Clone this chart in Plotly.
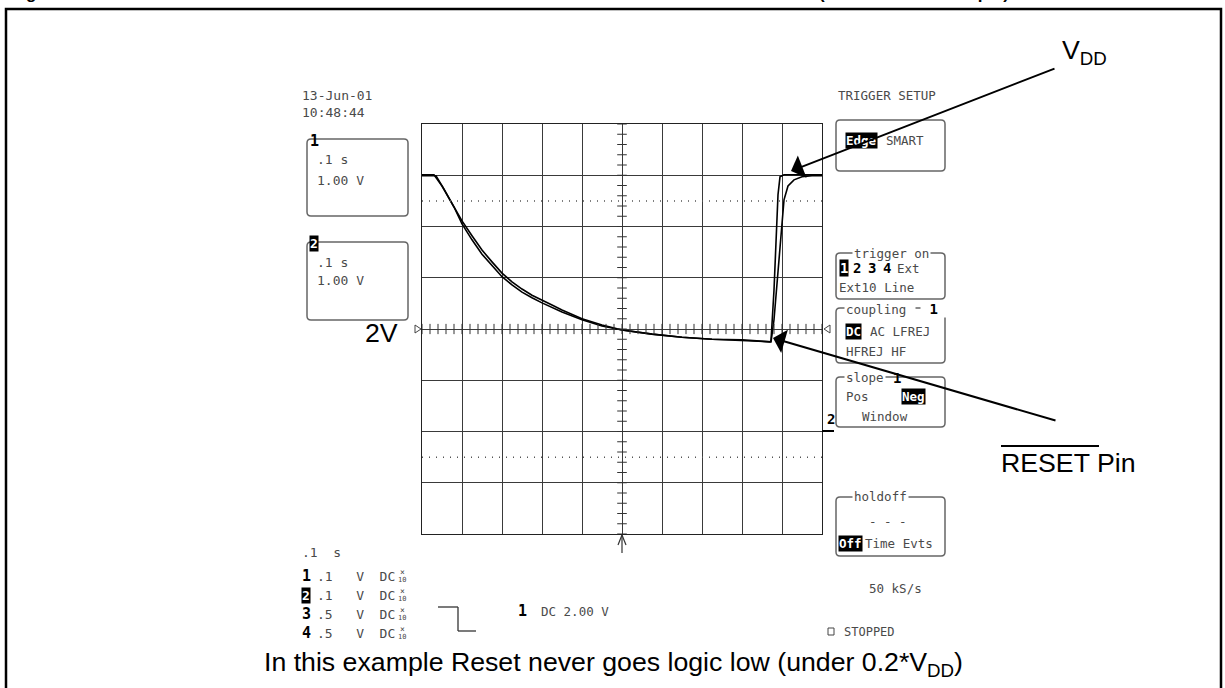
import plotly.graph_objects as go

# ---------------- data (time in s, voltage in V; 0.1 s/div, 1 V/div, centre = 2 V) -------------
ch1_t = [-0.5, -0.47, -0.45, -0.425, -0.40, -0.375, -0.35, -0.325, -0.30, -0.275, -0.25, -0.225,
         -0.20, -0.175, -0.15, -0.125, -0.10, -0.05, 0.0, 0.075, 0.15, 0.225, 0.30, 0.37,
         0.3725, 0.38, 0.385, 0.39, 0.395, 0.405, 0.5]
ch1_v = [5.01, 5.01, 4.79, 4.46, 4.11, 3.82, 3.54, 3.31, 3.09, 2.92, 2.78, 2.66,
         2.57, 2.47, 2.37, 2.29, 2.20, 2.08, 1.98, 1.90, 1.84, 1.80, 1.79, 1.75,
         1.77, 2.76, 3.74, 4.62, 4.97, 5.01, 5.01]

ch2_t = [-0.5, -0.465, -0.445, -0.42, -0.40, -0.375, -0.35, -0.325, -0.30, -0.275, -0.25, -0.225,
         -0.20, -0.15, -0.10, -0.05, 0.0, 0.075, 0.15, 0.225, 0.30, 0.3725,
         0.38, 0.39, 0.3975, 0.405, 0.415, 0.43, 0.45, 0.475, 0.5]
ch2_v = [4.99, 4.99, 4.73, 4.38, 4.05, 3.74, 3.46, 3.23, 3.02, 2.86, 2.72, 2.61,
         2.51, 2.33, 2.18, 2.06, 1.98, 1.90, 1.84, 1.80, 1.77, 1.75,
         2.18, 3.15, 3.93, 4.52, 4.79, 4.91, 4.97, 4.99, 4.99]

cursor_levels = [4.5, -0.5]

W, H = 1225, 688
GX0, GX1, GY0, GY1 = 422, 822, 124, 534


def px(x):
    return x / W


def py(y):
    return 1 - y / H


MONO = "DejaVu Sans Mono"
SANS = "Liberation Sans, Arial"
GREY = "#4a4a4a"
BIG = 26.7

shapes = []
annots = []


def line(x0, y0, x1, y1, color="black", width=1.5, dash=None):
    d = dict(type="line", xref="paper", yref="paper", x0=px(x0), y0=py(y0), x1=px(x1), y1=py(y1),
             line=dict(color=color, width=width))
    if dash:
        d["line"]["dash"] = dash
    shapes.append(d)


def rbox(x0, y0, x1, y1, r=4, color="#666", width=1.5):
    p = (f"M{px(x0+r)},{py(y0)} L{px(x1-r)},{py(y0)} Q{px(x1)},{py(y0)} {px(x1)},{py(y0+r)} "
         f"L{px(x1)},{py(y1-r)} Q{px(x1)},{py(y1)} {px(x1-r)},{py(y1)} L{px(x0+r)},{py(y1)} "
         f"Q{px(x0)},{py(y1)} {px(x0)},{py(y1-r)} L{px(x0)},{py(y0+r)} Q{px(x0)},{py(y0)} {px(x0+r)},{py(y0)} Z")
    shapes.append(dict(type="path", xref="paper", yref="paper", path=p, line=dict(color=color, width=width)))


def txt(x, y, s, size=12.5, color=GREY, family=MONO, xanchor="left", yanchor="middle", bg=None, pad=0):
    a = dict(x=px(x), y=py(y), xref="paper", yref="paper", text=s, showarrow=False,
             xanchor=xanchor, yanchor=yanchor, font=dict(family=family, size=size, color=color),
             borderpad=pad)
    if bg:
        a["bgcolor"] = bg
    annots.append(a)


def inv(x, y, s, size=12.5):
    txt(x, y, "<b>" + s + "</b>", size=size, color="white", bg="black")


def bnum(x, y, s, size=14):
    txt(x, y, "<b>" + s + "</b>", size=size, color="black")


# ---------------- figure frame and title fragment (title is cut off at the top) ----------------
shapes.append(dict(type="rect", xref="paper", yref="paper", x0=px(6), y0=py(9), x1=px(1221), y1=py(700),
                   line=dict(color="black", width=2.5)))
txt(10, 4, "<b>Figure 9.</b>", size=17, color="black", family=SANS, yanchor="bottom")
txt(818, 4, "<b>(Reset Function on pin)</b>", size=17, color="black", family=SANS, yanchor="bottom")

# ---------------- graticule extras (cursors, centre ticks, markers) ----------------
for lv in cursor_levels:
    shapes.append(dict(type="line", xref="x", yref="y", x0=-0.5, x1=0.5, y0=lv, y1=lv,
                       line=dict(color="#555", width=1.5, dash="1px,6px")))
for i in range(-25, 26):
    t = i * 0.02
    shapes.append(dict(type="line", xref="x", yref="y", x0=t, x1=t, y0=1.9, y1=2.1,
                       line=dict(color="#333", width=1)))
for i in range(-10, 31):
    v = i * 0.2
    shapes.append(dict(type="line", xref="x", yref="y", x0=-0.012, x1=0.012, y0=v, y1=v,
                       line=dict(color="#333", width=1)))

# trigger level triangles
shapes.append(dict(type="path", xref="paper", yref="paper",
                   path=f"M{px(415)},{py(325)} L{px(421)},{py(329)} L{px(415)},{py(333)} Z",
                   line=dict(color="#444", width=1)))
shapes.append(dict(type="path", xref="paper", yref="paper",
                   path=f"M{px(830)},{py(325)} L{px(824)},{py(329)} L{px(830)},{py(333)} Z",
                   line=dict(color="#444", width=1)))
# trigger position arrow at bottom
line(622, 535, 622, 553, "#333", 1.2)
line(618, 545, 622, 535, "#333", 1.2)
line(626, 545, 622, 535, "#333", 1.2)
# channel 2 ground marker
bnum(826, 419, "2", 14)
line(822, 431, 834, 431, "black", 2)

# ---------------- left panel ----------------
txt(301, 95, "13-Jun-01", 13)
txt(301, 113, "10:48:44", 13)
rbox(307, 139, 408, 216)
bnum(309, 141, "1", 15)
txt(316, 160, ".1 s", 13)
txt(316, 180, "1.00 V", 13)
rbox(307, 242, 408, 320)
inv(309, 244, "2", 13)
txt(316, 262, ".1 s", 13)
txt(316, 281, "1.00 V", 13)
txt(381, 333, "2V", BIG, "black", SANS, xanchor="center")

# ---------------- right panel ----------------
txt(837, 95, "TRIGGER SETUP", 12.5)
rbox(836, 120, 945, 171)
inv(845, 140, "Edge", 12.5)
txt(885, 140, "SMART", 12.5)

rbox(836, 253, 945, 299)
txt(852, 253, "trigger on", 12.5, bg="white", pad=1)
inv(839, 268, "1", 14)
bnum(852, 268, "2", 14)
bnum(867, 268, "3", 14)
bnum(882, 268, "4", 14)
txt(896, 268, "Ext", 12.5)
txt(838, 287, "Ext10 Line", 12.5)

rbox(836, 308, 945, 363)
txt(844, 309, "coupling ", 12.5, bg="white", pad=1)
txt(920, 309, " <b>1</b> ", 14, color="black", bg="white")
inv(845, 331, "DC", 12.5)
txt(869, 331, "AC LFREJ", 12.5)
txt(845, 351, "HFREJ HF", 12.5)

rbox(836, 377, 945, 427)
txt(844, 377, "slope", 12.5, bg="white", pad=1)
bnum(892, 378, "1", 14)
txt(845, 396, "Pos", 12.5)
inv(901, 396, "Neg", 12.5)
txt(861, 416, "Window", 12.5)

rbox(836, 497, 945, 556)
txt(852, 497, "holdoff", 12.5, bg="white", pad=1)
txt(868, 521, "- - -", 12.5)
inv(838, 543, "Off", 12.5)
txt(864, 543, "Time Evts", 12.5)

txt(868, 588, "50 kS/s", 12.5)
shapes.append(dict(type="rect", xref="paper", yref="paper", x0=px(828), y0=py(628), x1=px(834), y1=py(635),
                   line=dict(color="#444", width=1)))
txt(843, 632, "STOPPED", 12)

# ---------------- bottom-left channel table ----------------
txt(301, 552, ".1  s", 13)
rows = [("1", ".1   V  DC", 576, False), ("2", ".1   V  DC", 595, True),
        ("3", ".5   V  DC", 614, False), ("4", ".5   V  DC", 633, False)]
for n, s, yy, inverted in rows:
    if inverted:
        inv(301, yy, n, 13)
    else:
        bnum(301, yy, n, 15)
    txt(316, yy, s, 13)
    txt(402, yy - 4, "×", 8, xanchor="center")
    txt(402, yy + 4, "10", 7, xanchor="center")

# trigger symbol
line(438, 607, 458, 607, "#333", 1.3)
line(458, 607, 458, 631, "#333", 1.3)
line(458, 631, 476, 631, "#333", 1.3)
bnum(517, 611, "1", 15)
txt(540, 611, "DC 2.00 V", 12.5)

# ---------------- annotations (big text and arrows) ----------------
txt(1061, 52, "V<sub>DD</sub>", BIG, "black", SANS)
txt(1000, 463, "RESET Pin", BIG, "black", SANS)
line(1001, 446, 1099, 446, "black", 2.2)
txt(613, 664, "In this example Reset never goes logic low (under 0.2*V<sub>DD</sub>)", BIG, "black", SANS,
    xanchor="center")

for (tx, ty), (sx, sy) in [((791, 171), (1056, 68)), ((773, 338), (1057, 421))]:
    annots.append(dict(x=px(tx), y=py(ty), xref="paper", yref="paper", text="", showarrow=True,
                       ax=sx - tx, ay=sy - ty, arrowhead=1, arrowsize=2.0, arrowwidth=2,
                       arrowcolor="black", standoff=0))

# ---------------- figure ----------------
fig = go.Figure()
fig.add_trace(go.Scatter(x=ch1_t, y=ch1_v, mode="lines", line=dict(color="black", width=1.6),
                         showlegend=False, hoverinfo="skip"))
fig.add_trace(go.Scatter(x=ch2_t, y=ch2_v, mode="lines", line=dict(color="black", width=1.6),
                         showlegend=False, hoverinfo="skip"))

fig.update_layout(
    width=W, height=H, margin=dict(l=0, r=0, t=0, b=0),
    paper_bgcolor="white", plot_bgcolor="white",
    xaxis=dict(domain=[px(GX0), px(GX1)], range=[-0.5, 0.5], dtick=0.1, tick0=0,
               showgrid=True, gridcolor="#3a3a3a", gridwidth=1, zeroline=False,
               showline=True, linecolor="#222", linewidth=1, mirror=True,
               showticklabels=False, ticks="", fixedrange=True),
    yaxis=dict(domain=[py(GY1), py(GY0)], range=[-2, 6], dtick=1, tick0=0,
               showgrid=True, gridcolor="#3a3a3a", gridwidth=1, zeroline=False,
               showline=True, linecolor="#222", linewidth=1, mirror=True,
               showticklabels=False, ticks="", fixedrange=True),
    shapes=shapes, annotations=annots, showlegend=False,
)

fig.write_html("out.html", config={"displayModeBar": False},
               post_script="document.body.style.margin='0px';document.body.style.overflow='hidden';")
